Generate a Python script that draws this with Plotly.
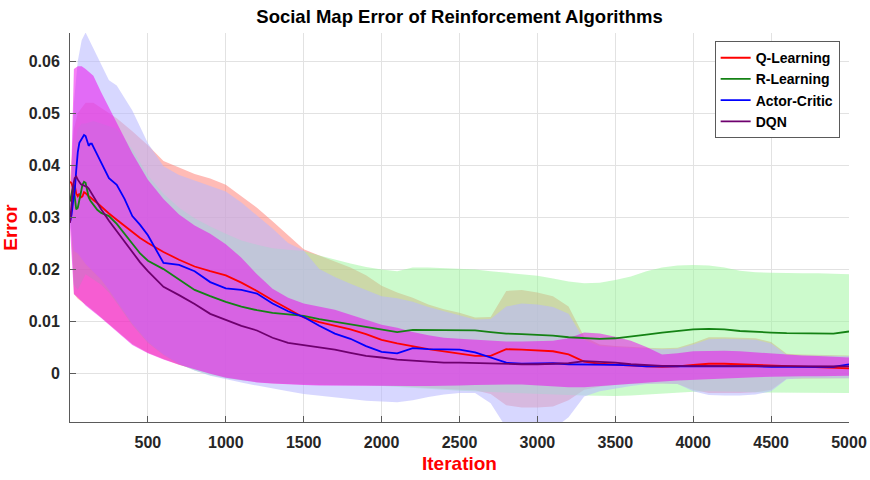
import plotly.graph_objects as go

# x grids (iterations)
iters_band = [0, 25, 50, 75, 100, 150, 200, 250, 300] + list(range(400, 5001, 100))
iters_line = list(range(0, 151, 10)) + [175, 200, 250, 300, 350, 400, 450, 500] + list(range(600, 5001, 100))

# mean curves
q_mean = [.0368, .0365, .0355, .0362, .0345, .0340, .0345, .0338, .0340, .0348, .0346, .0342, .0340, .0338, .0335, .0333,
          .0327, .0320, .0307, .0295, .0283, .0272, .0260, .0250,
          .0233, .0218, .0205, .0196, .0188, .0174, .0158, .0140, .0123, .0107, .0098, .0091, .0084, .0075, .0064,
          .0057, .0051, .0046, .0042, .0038, .0033, .0033, .0046, .0045, .0044, .0042, .0036, .0022, .0018, .0016,
          .0014, .0013, .0012, .0013, .0016, .0018, .0018, .0017, .0016, .0014, .0013, .0012, .0012, .0011, .0009]
r_mean = [.0330, .0345, .0360, .0340, .0315, .0318, .0335, .0350, .0362, .0368, .0366, .0352, .0338, .0332, .0328, .0323,
          .0314, .0308, .0302, .0287, .0268, .0248, .0230, .0216,
          .0200, .0180, .0160, .0148, .0137, .0128, .0121, .0116, .0113, .0110, .0104, .0099, .0094, .0088, .0083,
          .0079, .0083, .0083, .0083, .0083, .0082, .0079, .0076, .0075, .0074, .0072, .0069, .0067, .0066, .0067,
          .0070, .0074, .0078, .0081, .0084, .0085, .0084, .0081, .0079, .0078, .0077, .0077, .0077, .0076, .0080]
ac_mean = [.0290, .0305, .0330, .0350, .0390, .0425, .0443, .0448, .0452, .0458, .0456, .0445, .0437, .0441, .0441, .0435,
           .0420, .0405, .0375, .0362, .0335, .0302, .0285, .0265,
           .0212, .0208, .0196, .0175, .0163, .0160, .0153, .0134, .0119, .0108, .0091, .0076, .0066, .0052, .0041,
           .0038, .0048, .0046, .0046, .0045, .0040, .0030, .0020, .0018, .0018, .0019, .0017, .0017, .0017, .0016,
           .0015, .0013, .0013, .0013, .0013, .0014, .0014, .0013, .0013, .0012, .0012, .0012, .0012, .0012, .0017]
dqn_mean = [.0289, .0320, .0360, .0375, .0378, .0372, .0366, .0363, .0362, .0361, .0360, .0358, .0355, .0350, .0345, .0340,
            .0328, .0315, .0293, .0273, .0255, .0233, .0213, .0196,
            .0166, .0150, .0133, .0114, .0102, .0091, .0082, .0068, .0058, .0054, .0050, .0045, .0039, .0033, .0030,
            .0026, .0024, .0022, .0020, .0020, .0019, .0018, .0017, .0017, .0017, .0018, .0019, .0023, .0022, .0020,
            .0017, .0015, .0014, .0014, .0014, .0013, .0013, .0013, .0014, .0014, .0014, .0014, .0014, .0014, .0013]

# shaded bands (upper / lower edges)
q_up = [.0370, .0470, .0500, .0510, .0520, .0520, .0510, .0500, .0490, .0465, .0438, .0408, .0395, .0383, .0374, .0362,
        .0340, .0318, .0292, .0265, .0238, .0226, .0215, .0203, .0188, .0168, .0155, .0145, .0132, .0123, .0116, .0107,
        .0108, .0158, .0160, .0155, .0148, .0128, .0070, .0055, .0052, .0050, .0049, .0048, .0049, .0058, .0069, .0069,
        .0068, .0067, .0060, .0037, .0036, .0035, .0035, .0034]
q_lo = [.0360, .0152, .0143, .0138, .0132, .0120, .0108, .0095, .0082, .0056, .0039, .0027, .0016, .0007, -.0001, -.0008,
        -.0013, -.0017, -.0020, -.0021, -.0022, -.0023, -.0023, -.0024, -.0024, -.0024, -.0025, -.0026, -.0028, -.0030,
        -.0032, -.0033, -.0040, -.0062, -.0066, -.0066, -.0064, -.0052, -.0032, -.0026, -.0023, -.0021, -.0020, -.0020,
        -.0021, -.0032, -.0038, -.0038, -.0038, -.0037, -.0032, -.0011, -.0010, -.0010, -.0010, -.0010]
r_up = [.0330, .0430, .0470, .0480, .0480, .0485, .0480, .0475, .0470, .0430, .0380, .0345, .0318, .0298, .0282, .0268,
        .0255, .0247, .0240, .0237, .0235, .0226, .0218, .0211, .0204, .0199, .0196, .0203, .0203, .0202, .0201, .0199,
        .0196, .0193, .0190, .0187, .0182, .0176, .0173, .0174, .0179, .0186, .0196, .0203, .0207, .0208, .0207, .0203,
        .0197, .0194, .0193, .0192, .0192, .0192, .0191, .0190]
r_lo = [.0330, .0170, .0160, .0175, .0190, .0180, .0170, .0155, .0135, .0092, .0058, .0035, .0017, .0005, -.0004, -.0010,
        -.0014, -.0017, -.0019, -.0020, -.0021, -.0022, -.0022, -.0023, -.0023, -.0024, -.0026, -.0028, -.0030, -.0032,
        -.0034, -.0035, -.0037, -.0038, -.0039, -.0040, -.0041, -.0042, -.0043, -.0044, -.0044, -.0043, -.0042, -.0040,
        -.0038, -.0036, -.0035, -.0035, -.0036, -.0037, -.0037, -.0038, -.0038, -.0038, -.0038, -.0038]
ac_up = [.0300, .0520, .0600, .0640, .0655, .0625, .0595, .0563, .0553, .0505, .0442, .0398, .0381, .0370, .0360, .0349,
         .0328, .0303, .0278, .0250, .0236, .0200, .0185, .0172, .0160, .0148, .0144, .0137, .0127, .0119, .0112, .0103,
         .0104, .0128, .0134, .0132, .0127, .0114, .0064, .0052, .0050, .0049, .0047, .0046, .0047, .0055, .0065, .0066,
         .0065, .0064, .0057, .0035, .0034, .0034, .0033, .0033]
ac_lo = [.0290, .0235, .0230, .0220, .0210, .0195, .0180, .0160, .0140, .0095, .0060, .0036, .0018, .0005, -.0005, -.0012,
         -.0018, -.0024, -.0030, -.0035, -.0040, -.0044, -.0047, -.0050, -.0053, -.0055, -.0056, -.0052, -.0046, -.0041,
         -.0038, -.0038, -.0058, -.0105, -.0110, -.0110, -.0108, -.0085, -.0045, -.0035, -.0030, -.0025, -.0021, -.0020,
         -.0021, -.0035, -.0042, -.0043, -.0043, -.0041, -.0035, -.0012, -.0010, -.0010, -.0010, -.0010]
dqn_up = [.0290, .0585, .0590, .0590, .0585, .0572, .0540, .0510, .0480, .0423, .0372, .0335, .0305, .0284, .0268, .0248,
          .0222, .0190, .0162, .0145, .0134, .0128, .0122, .0112, .0102, .0093, .0087, .0079, .0073, .0068, .0066, .0064,
          .0062, .0061, .0061, .0061, .0062, .0067, .0078, .0076, .0070, .0062, .0050, .0036, .0038, .0042, .0043, .0043,
          .0042, .0040, .0037, .0035, .0034, .0033, .0031, .0030]
dqn_lo = [.0280, .0152, .0145, .0138, .0130, .0118, .0106, .0093, .0079, .0054, .0038, .0026, .0016, .0007, -.0001, -.0009,
          -.0014, -.0018, -.0020, -.0022, -.0023, -.0024, -.0024, -.0025, -.0025, -.0025, -.0025, -.0025, -.0025, -.0025,
          -.0024, -.0023, -.0022, -.0022, -.0022, -.0023, -.0025, -.0027, -.0027, -.0025, -.0023, -.0020, -.0018, -.0016,
          -.0014, -.0012, -.0011, -.0010, -.0009, -.0008, -.0007, -.0006, -.0006, -.0006, -.0006, -.0005]

x_ticks = [500, 1000, 1500, 2000, 2500, 3000, 3500, 4000, 4500, 5000]
y_ticks = [0, 0.01, 0.02, 0.03, 0.04, 0.05, 0.06]
y_labels = ['0', '0.01', '0.02', '0.03', '0.04', '0.05', '0.06']

series = [
    ('Q-Learning', q_mean, q_up, q_lo, 'rgb(255,0,0)', 'rgba(255,120,110,0.5)'),
    ('R-Learning', r_mean, r_up, r_lo, 'rgb(20,130,20)', 'rgba(153,245,153,0.5)'),
    ('Actor-Critic', ac_mean, ac_up, ac_lo, 'rgb(0,0,255)', 'rgba(184,184,255,0.56)'),
    ('DQN', dqn_mean, dqn_up, dqn_lo, 'rgb(110,0,110)', 'rgba(238,0,238,0.5)'),
]

FONT = 'Liberation Sans, Arial, sans-serif'

fig = go.Figure()

# bands first
for name, mean, up, lo, lc, fc in series:
    fig.add_trace(go.Scatter(
        x=iters_band + iters_band[::-1], y=up + lo[::-1],
        fill='toself', fillcolor=fc, line=dict(width=0),
        mode='lines', hoverinfo='skip', showlegend=False))

# mean lines on top
for name, mean, up, lo, lc, fc in series:
    fig.add_trace(go.Scatter(x=iters_line, y=mean, mode='lines', name=name,
                             line=dict(color=lc, width=1.8)))

axis_common = dict(showgrid=True, gridcolor='rgb(226,226,226)', gridwidth=1,
                   showline=True, linecolor='rgb(90,90,90)', linewidth=1,
                   ticks='inside', ticklen=6, tickcolor='rgb(90,90,90)',
                   zeroline=False, mirror=False, automargin=False,
                   tickfont=dict(family=FONT, size=16, color='rgb(38,38,38)', weight='bold'))

fig.update_layout(
    width=870, height=480, autosize=False,
    margin=dict(l=70, r=21, t=33, b=58),
    paper_bgcolor='white', plot_bgcolor='white',
    title=dict(text='Social Map Error of Reinforcement Algorithms', x=0.5, xref='paper',
               y=1 - 17 / 480, yref='container', yanchor='middle', xanchor='center',
               font=dict(family=FONT, size=18.5, color='black', weight='bold')),
    xaxis=dict(range=[0, 5000], tickvals=x_ticks, ticklabelstandoff=6,
               title=dict(text='Iteration', standoff=6,
                          font=dict(family=FONT, size=19, color='red', weight='bold')),
               **axis_common),
    yaxis=dict(range=[-0.0094, 0.0654], tickvals=y_ticks, ticktext=y_labels, ticklabelstandoff=6,
               title=dict(text='Error', standoff=8,
                          font=dict(family=FONT, size=19, color='red', weight='bold')),
               **axis_common),
    legend=dict(x=0.988, y=0.979, xanchor='right', yanchor='top',
                bgcolor='white', bordercolor='rgb(90,90,90)', borderwidth=1,
                font=dict(family=FONT, size=14, color='black', weight='bold'),
                itemwidth=30, tracegroupgap=0),
)

# drop the browser's default 8px body margin so the figure fills the window
fig.write_html("out.html", config={'displayModeBar': False},
               post_script="document.body.style.margin='0px';")
